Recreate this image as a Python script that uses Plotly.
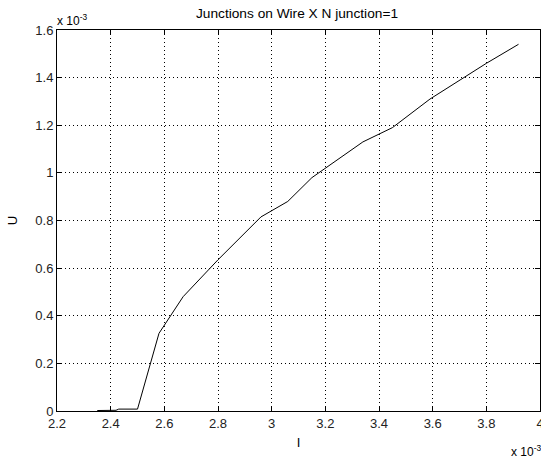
import plotly.graph_objects as go

# Data in units of 1e-3
I_vals = [2.35, 2.42, 2.43, 2.50, 2.58, 2.67, 2.80, 2.96, 3.06, 3.15, 3.34, 3.45, 3.59, 3.80, 3.92]
U_vals = [0.002, 0.003, 0.008, 0.008, 0.326, 0.48, 0.635, 0.815, 0.88, 0.98, 1.13, 1.19, 1.31, 1.46, 1.54]

x_ticks = [2.2, 2.4, 2.6, 2.8, 3.0, 3.2, 3.4, 3.6, 3.8, 4.0]
x_labels = ["2.2", "2.4", "2.6", "2.8", "3", "3.2", "3.4", "3.6", "3.8", "4"]
y_ticks = [0, 0.2, 0.4, 0.6, 0.8, 1.0, 1.2, 1.4, 1.6]
y_labels = ["0", "0.2", "0.4", "0.6", "0.8", "1", "1.2", "1.4", "1.6"]

FONT = "Liberation Sans, Arial, sans-serif"

fig = go.Figure()
fig.add_trace(go.Scatter(x=I_vals, y=U_vals, mode="lines",
                         line=dict(color="black", width=1), showlegend=False))

axis_common = dict(
    showline=True, linecolor="black", linewidth=1, mirror="ticks",
    ticks="inside", ticklen=5, tickcolor="black",
    showgrid=True, gridcolor="black", gridwidth=1, griddash="1px,3px",
    zeroline=False, automargin=False, ticklabeloverflow="allow",
    tickfont=dict(family=FONT, size=13, color="#222222"),
)

fig.update_layout(
    width=541, height=462,
    margin=dict(l=57, r=1, t=30, b=51),
    paper_bgcolor="white", plot_bgcolor="white",
    font=dict(family=FONT, size=13, color="black"),
    title=dict(text="Junctions on Wire X N junction=1", xref="container", x=297/541, xanchor="center",
               yref="container", y=1 - 13/462, yanchor="middle",
               font=dict(family=FONT, size=13.7, color="black")),
    xaxis=dict(range=[2.2, 4.0], tickvals=x_ticks, ticktext=x_labels,
               title=dict(text="I", standoff=8, font=dict(size=13)), **axis_common),
    yaxis=dict(range=[0, 1.6], tickvals=y_ticks, ticktext=y_labels,
               title=dict(text="U", standoff=14, font=dict(size=13)), **axis_common),
    annotations=[
        dict(text="x 10<sup>-3</sup>", xref="paper", yref="paper", x=0, y=1.0,
             xanchor="left", yanchor="bottom", xshift=-2, showarrow=False,
             font=dict(family=FONT, size=12, color="black")),
        dict(text="x 10<sup>-3</sup>", xref="paper", yref="paper", x=1.0, y=-0.08,
             xanchor="right", yanchor="top", xshift=3, showarrow=False,
             font=dict(family=FONT, size=12, color="black")),
    ],
)

fig.write_html("out.html", config={"displayModeBar": False},
               post_script="document.body.style.margin='0px';")
